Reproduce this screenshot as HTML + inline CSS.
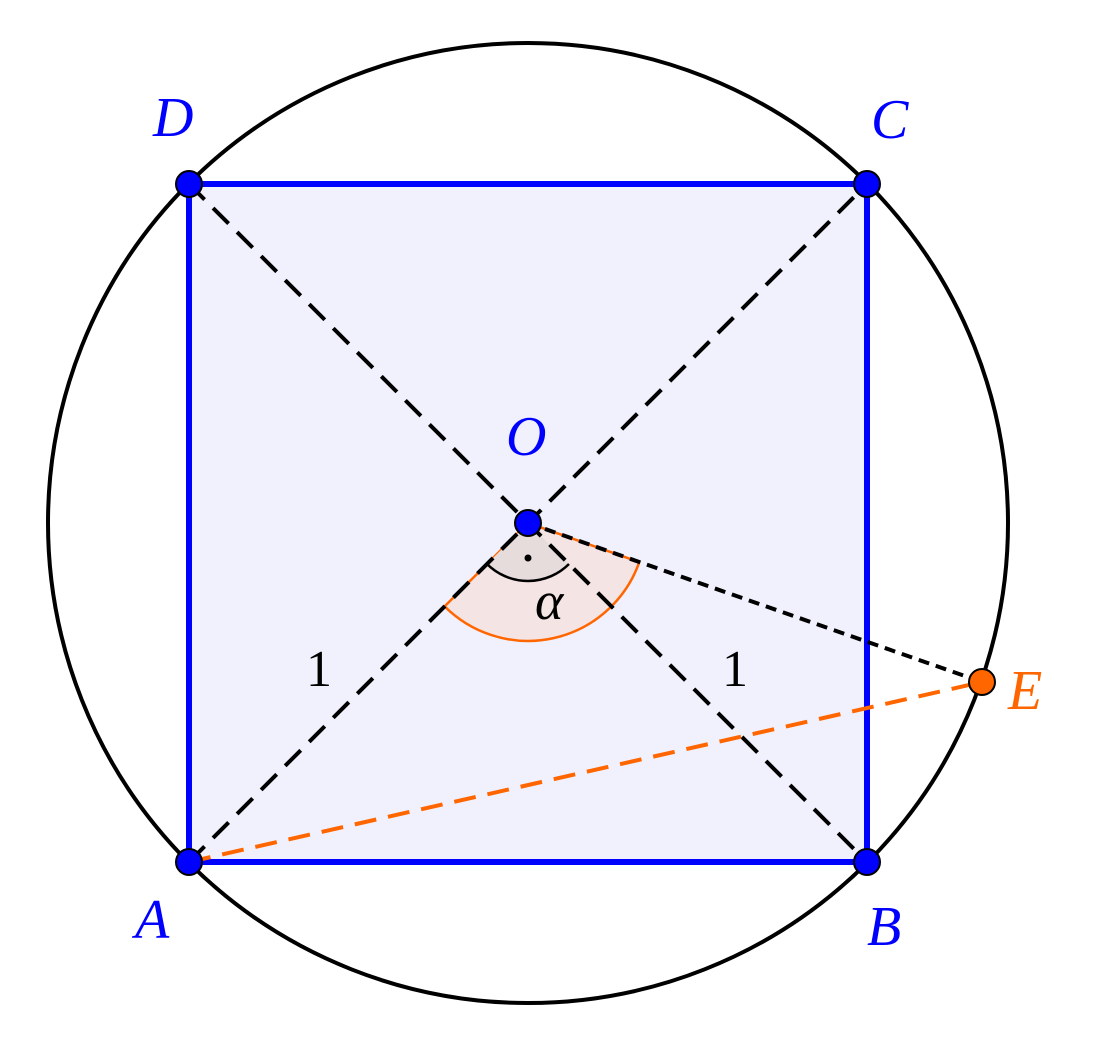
<!DOCTYPE html>
<html><head><meta charset="utf-8"><style>
html,body{margin:0;padding:0;background:#fff;}
svg{display:block;}
text{font-family:"Liberation Serif",serif;font-style:italic;}
</style></head><body>
<svg width="1094" height="1041" viewBox="0 0 1094 1041" xmlns="http://www.w3.org/2000/svg">
<rect x="189" y="184" width="678" height="678" fill="#f1f1fd" stroke="none"/>
<circle cx="528" cy="523" r="480" fill="none" stroke="#000" stroke-width="4"/>
<path d="M528,523 L444.6,606.4 A118,118 0 0 0 639.3,562.1 Z" fill="#f4e4e4" stroke="#ff6600" stroke-width="2.5"/>
<path d="M528,523 L487,564 A58,58 0 0 0 569,564 Z" fill="#e6dcdc" stroke="none"/>
<path d="M487,564 A58,58 0 0 0 569,564" fill="none" stroke="#000" stroke-width="2.5"/>
<circle cx="528" cy="558" r="3.5" fill="#000"/>
<rect x="189" y="184" width="678" height="678" fill="none" stroke="#0000ff" stroke-width="6"/>
<g stroke="#000" stroke-width="4" stroke-dasharray="22,12" fill="none">
<line x1="189" y1="862" x2="867" y2="184"/>
<line x1="189" y1="184" x2="867" y2="862"/>
</g>
<line x1="528" y1="523" x2="982" y2="682" stroke="#000" stroke-width="4" stroke-dasharray="11,7"/>
<line x1="189" y1="862" x2="982" y2="682" stroke="#ff6600" stroke-width="4" stroke-dasharray="22,12"/>
<g stroke="#000" stroke-width="2" fill="#0000ff">
<circle cx="189" cy="862" r="13"/>
<circle cx="867" cy="862" r="13"/>
<circle cx="867" cy="184" r="13"/>
<circle cx="189" cy="184" r="13"/>
<circle cx="528" cy="523" r="13"/>
</g>
<circle cx="982" cy="682" r="13" fill="#ff6600" stroke="#000" stroke-width="2"/>
<g fill="#0000ff" font-size="56">
<text x="153" y="136">D</text>
<text x="871" y="138">C</text>
<text x="506" y="455">O</text>
<text x="135" y="938">A</text>
<text x="867" y="945">B</text>
</g>
<text x="1008" y="709" fill="#ff6600" font-size="56">E</text>
<text x="535" y="619" font-size="54" fill="#000">α</text>
<text x="306" y="686" font-size="52" fill="#000" style="font-style:normal">1</text>
<text x="722" y="686" font-size="52" fill="#000" style="font-style:normal">1</text>
</svg>
</body></html>
